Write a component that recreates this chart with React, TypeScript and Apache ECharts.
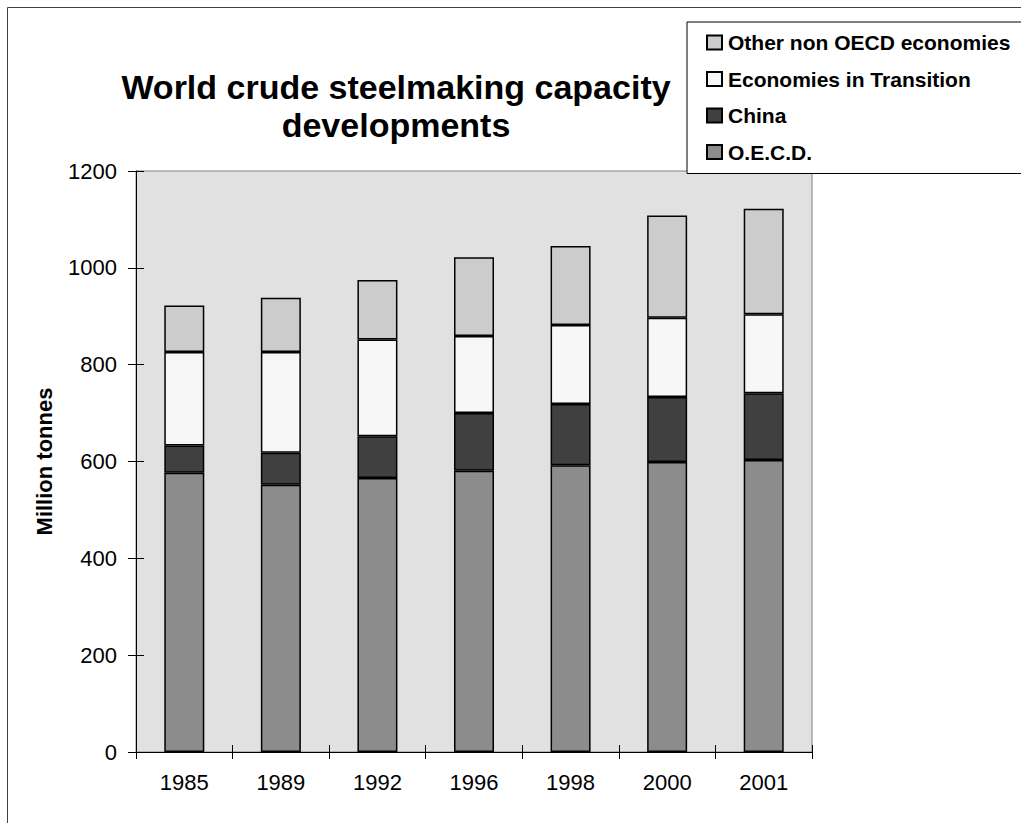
import React, { useEffect, useRef } from "react";
import * as echarts from "echarts";

// Crude steelmaking capacity by region, million tonnes
const years = ["1985", "1989", "1992", "1996", "1998", "2000", "2001"];
const oecd = [577, 552, 566, 581, 592, 599, 603];
const china = [56, 66, 86, 119, 127, 134, 138];
const transition = [193, 208, 200, 159, 163, 164, 163];
const otherNonOecd = [96, 112, 123, 163, 163, 211, 218];

const legendOrder = [
  "Other non OECD economies",
  "Economies in Transition",
  "China",
  "O.E.C.D.",
];

const FONT = '"Liberation Sans", Arial, sans-serif';

export default function App() {
  const ref = useRef<HTMLDivElement>(null);

  useEffect(() => {
    document.body.style.margin = "0";
    if (!ref.current) return;
    const chart = echarts.init(ref.current, undefined, { renderer: "svg" });

    const barStyle = (color: string) => ({
      color,
      borderColor: "#000",
      borderWidth: 1.5,
    });

    const mkSeries = (name: string, data: number[], color: string) => ({
      name,
      type: "bar",
      stack: "capacity",
      data,
      barWidth: 40,
      itemStyle: barStyle(color),
      emphasis: { disabled: true },
    });

    chart.setOption({
      animation: false,
      backgroundColor: "#fff",
      textStyle: { fontFamily: FONT },
      title: {
        text: "World crude steelmaking capacity\ndevelopments",
        left: 391,
        top: 63,
        textAlign: "center",
        textStyle: {
          fontFamily: FONT,
          fontSize: 34,
          fontWeight: "bold",
          lineHeight: 38,
          color: "#000",
        },
      },
      legend: {
        data: legendOrder,
        orient: "vertical",
        left: 687,
        top: 22,
        padding: [10, 40, 11, 19],
        itemWidth: 15,
        itemHeight: 14,
        itemGap: 15.5,
        icon: "rect",
        backgroundColor: "#fff",
        borderColor: "#000",
        borderWidth: 1,
        borderRadius: 0,
        selectedMode: false,
        textStyle: {
          fontFamily: FONT,
          fontSize: 21,
          fontWeight: "bold",
          color: "#000",
          padding: [0, 0, 0, 1],
        },
      },
      grid: {
        left: 136,
        right: 209,
        top: 171,
        bottom: 71,
        show: true,
        backgroundColor: "#e1e1e1",
        borderColor: "#808080",
        borderWidth: 1,
      },
      xAxis: [
        {
          type: "category",
          data: years,
          axisLine: { show: true, lineStyle: { color: "#000", width: 1 } },
          axisTick: {
            show: true,
            interval: 0,
            length: 7,
            lineStyle: { color: "#000" },
          },
          axisLabel: {
            fontFamily: FONT,
            fontSize: 22,
            color: "#000",
            margin: 19,
          },
        },
        {
          type: "category",
          data: years,
          position: "bottom",
          axisLine: { show: false },
          axisTick: {
            show: true,
            inside: true,
            interval: 0,
            length: 7,
            lineStyle: { color: "#000" },
          },
          axisLabel: { show: false },
        },
      ],
      yAxis: [
        {
          type: "value",
          min: 0,
          max: 1200,
          interval: 200,
          name: "Million tonnes",
          nameLocation: "middle",
          nameRotate: 90,
          nameGap: 81,
          nameTextStyle: {
            fontFamily: FONT,
            fontSize: 22,
            fontWeight: "bold",
            color: "#000",
          },
          splitLine: { show: false },
          axisLine: { show: true, lineStyle: { color: "#000", width: 1 } },
          axisTick: { show: true, length: 8, lineStyle: { color: "#000" } },
          axisLabel: {
            fontFamily: FONT,
            fontSize: 22,
            color: "#000",
            margin: 19,
            formatter: (v: number) => String(v),
          },
        },
        {
          type: "value",
          min: 0,
          max: 1200,
          interval: 200,
          position: "left",
          splitLine: { show: false },
          axisLine: { show: false },
          axisTick: {
            show: true,
            inside: true,
            length: 8,
            lineStyle: { color: "#000" },
          },
          axisLabel: { show: false },
        },
      ],
      series: [
        mkSeries("O.E.C.D.", oecd, "#8c8c8c"),
        mkSeries("China", china, "#404040"),
        mkSeries("Economies in Transition", transition, "#f7f7f7"),
        mkSeries("Other non OECD economies", otherNonOecd, "#cccccc"),
      ],
      graphic: [
        {
          type: "rect",
          silent: true,
          z: 100,
          shape: { x: 7.5, y: 7.5, width: 1100, height: 1000 },
          style: { fill: "none", stroke: "#404040", lineWidth: 1 },
        },
      ],
    });

    return () => chart.dispose();
  }, []);

  return (
    <div
      ref={ref}
      style={{ position: "absolute", left: 0, top: 0, width: 1021, height: 823 }}
    />
  );
}
